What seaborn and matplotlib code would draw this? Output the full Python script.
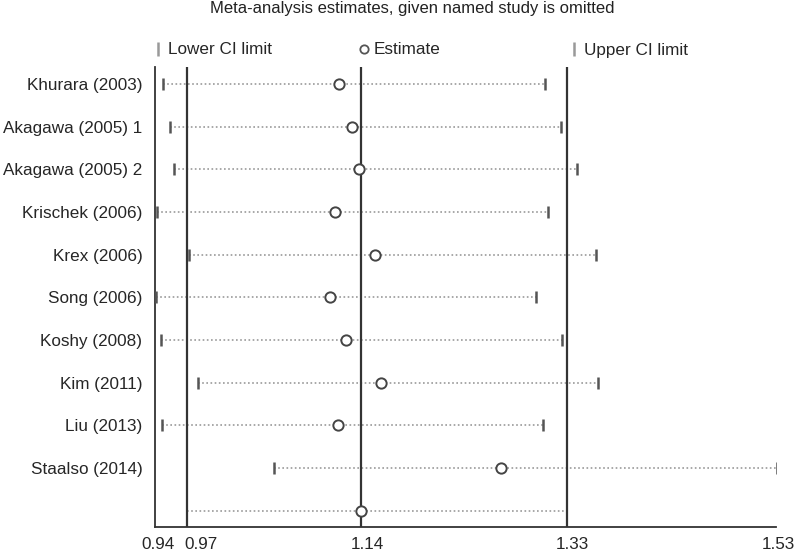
import numpy as np
import pandas as pd
import matplotlib
matplotlib.use("Agg")
import matplotlib.pyplot as plt
import matplotlib.transforms as mtrans
from matplotlib.lines import Line2D
import seaborn as sns

# study omitted -> pooled estimate with 95% CI
studies = ["Khurara (2003)", "Akagawa (2005) 1", "Akagawa (2005) 2", "Krischek (2006)",
           "Krex (2006)", "Song (2006)", "Koshy (2008)", "Kim (2011)", "Liu (2013)",
           "Staalso (2014)", ""]
lower = [0.948, 0.954, 0.958, 0.942, 0.972, 0.941, 0.946, 0.981, 0.947, 1.053, 0.970]
estimate = [1.115, 1.127, 1.134, 1.111, 1.149, 1.106, 1.121, 1.155, 1.114, 1.269, 1.136]
upper = [1.311, 1.326, 1.341, 1.313, 1.359, 1.302, 1.327, 1.361, 1.309, 1.531, 1.331]

# overall estimate (all studies) and the axis ticks
overall = [0.970, 1.136, 1.331]
tick_vals = [0.94, 0.97, 1.136, 1.331, 1.53]
tick_labels = ["0.94", "0.97", "1.14", "1.33", "1.53"]

df = pd.DataFrame({"study": studies, "lower": lower, "est": estimate, "upper": upper})
df["pos"] = np.arange(len(df))

sns.set_style("white")
plt.rcParams["font.family"] = ["Liberation Sans", "DejaVu Sans"]
FS = 12.3

fig = plt.figure(figsize=(8, 5.54), dpi=100)
ax = fig.add_axes([155 / 800, 1 - 527 / 554, (776 - 155) / 800, (527 - 67) / 554])

# dotted CI lines
ax.hlines(df["pos"], df["lower"], df["upper"], colors="#9a9a9a", linestyles=(0, (1, 1.5)),
          linewidth=1.2, zorder=1)

# overall reference lines
for v in overall:
    ax.axvline(v, color="#333333", linewidth=1.6, zorder=2)

# CI limits and estimates
sns.scatterplot(data=df.iloc[:-1], x="lower", y="pos", marker="|", s=85, color="#555555",
                linewidth=1.8, ax=ax, zorder=3, legend=False)
sns.scatterplot(data=df.iloc[:-1], x="upper", y="pos", marker="|", s=85, color="#555555",
                linewidth=1.8, ax=ax, zorder=3, legend=False)
sns.scatterplot(data=df, x="est", y="pos", marker="o", s=55, facecolor="white",
                edgecolor="#444444", linewidth=1.4, ax=ax, zorder=4, legend=False)

ax.set_xlim(0.94, 1.53)
ax.set_ylim(len(df) - 1 + 0.38, -0.4)
ax.set_yticks(df["pos"])
ax.set_yticklabels(df["study"], fontsize=FS)
ax.set_xticks(tick_vals)
ax.set_xticklabels(tick_labels, fontsize=FS)
ax.tick_params(axis="y", length=0, pad=9)
ax.tick_params(axis="x", direction="out", length=6, width=1.5, color="#333333", pad=1.5)
ax.set_xlabel("")
ax.set_ylabel("")
for side in ["top", "right"]:
    ax.spines[side].set_visible(False)
for side in ["left", "bottom"]:
    ax.spines[side].set_color("#333333")
    ax.spines[side].set_linewidth(1.3)

# the tick labels sit a little right of their ticks, 0.97 pushed clear of 0.94
shifts = [3, 14, 6, 6, 2]
for lab, dx in zip(ax.get_xticklabels(), shifts):
    lab.set_transform(lab.get_transform() + mtrans.ScaledTranslation(dx / 100, 0, fig.dpi_scale_trans))

bar = dict(linestyle="none", marker="|", markersize=10, markeredgewidth=1.8, color="#999999")
circ = dict(linestyle="none", marker="o", markersize=6, markerfacecolor="white",
            markeredgecolor="#555555", markeredgewidth=1.3)
legend_items = [("Lower CI limit", bar, 158), ("Estimate", circ, 364), ("Upper CI limit", bar, 574)]
for text, style, xpix in legend_items:
    fig.legend([Line2D([], [], **style)], [text], loc="center left",
               bbox_to_anchor=((xpix - 4) / 800, 1 - 50 / 554), frameon=False,
               fontsize=FS, handlelength=0.5, handletextpad=0.3, borderpad=0, borderaxespad=0)

fig.text(412 / 800, 1 - 9 / 554, "Meta-analysis estimates, given named study is omitted",
         ha="center", va="center", fontsize=12, color="#222222")

fig.savefig("out.png", dpi=100)
